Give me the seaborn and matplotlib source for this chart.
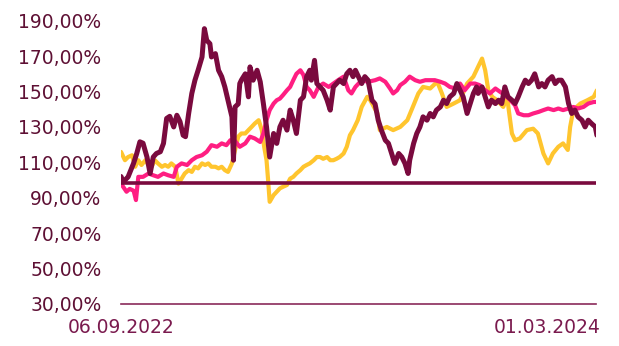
import pandas as pd
import numpy as np
import matplotlib
matplotlib.use('Agg')
import matplotlib.pyplot as plt
import matplotlib.dates as mdates
from matplotlib.ticker import FuncFormatter
import seaborn as sns

sns.set_style('white')
plt.rcParams['font.family'] = ['DejaVu Sans']

# ---------------------------------------------------------------
# Data (day offsets from 06.09.2022)
# ---------------------------------------------------------------
START = pd.Timestamp('2022-09-06')
END = pd.Timestamp('2024-05-02')

dark_days = [0, 3, 9, 16, 20, 24, 28, 33, 37, 41, 45, 50, 54, 58, 62, 67, 71, 75, 79, 82,
             86, 90, 94, 98, 103, 106, 109, 113, 115, 120, 124, 128, 132, 136, 141, 143, 145,
             149, 151, 153, 158, 162, 164, 168, 173, 177, 181, 185, 189, 194, 198, 202, 206,
             211, 215, 219, 223, 228, 232, 236, 240, 242, 246, 249, 253, 257, 262, 266, 270,
             274, 278, 283, 287, 291, 295, 298, 306, 310, 314, 319, 323, 327, 331, 336, 340,
             344, 348, 353, 357, 361, 365, 367, 372, 376, 380, 384, 389, 393, 397, 401, 406,
             410, 414, 418, 423, 427, 431, 435, 440, 444, 448, 452, 454, 459, 463, 467, 471,
             476, 480, 484, 488, 492, 497, 501, 505, 510, 514, 518, 522, 526, 531, 535, 539,
             543, 548, 552, 556, 560, 565, 569, 573, 577, 581, 586, 590, 594, 598, 603, 605]
dark_vals = [102.0, 99.0, 101.8, 109.5, 115.0, 121.6, 120.8, 113.0, 103.7, 113.0, 115.0, 116.0,
             120.7, 134.8, 136.0, 130.0, 136.6, 133.0, 125.3, 124.5, 137.6, 148.9, 156.4, 162.0,
             169.5, 185.5, 178.9, 177.0, 169.5, 171.4, 162.0, 158.4, 152.6, 145.1, 135.7, 111.2,
             141.3, 143.0, 154.5, 156.4, 160.0, 147.0, 163.9, 156.4, 162.0, 155.5, 143.2, 130.0,
             113.0, 126.3, 120.7, 130.0, 133.8, 128.2, 139.5, 133.8, 126.3, 145.1, 147.0, 158.4,
             162.0, 156.4, 167.6, 154.5, 152.6, 150.7, 145.1, 139.5, 152.6, 154.5, 156.4, 154.5,
             160.0, 162.0, 158.4, 162.0, 154.5, 158.4, 156.4, 145.1, 143.0, 133.8, 128.2, 122.5,
             120.7, 115.0, 109.4, 115.0, 113.0, 109.4, 103.7, 111.2, 120.7, 126.3, 130.0, 135.7,
             133.8, 137.6, 135.7, 139.5, 141.3, 145.1, 143.2, 147.0, 148.9, 154.5, 150.7, 147.0,
             137.6, 143.2, 148.9, 152.6, 148.9, 152.6, 147.0, 141.3, 145.1, 143.2, 145.1, 143.2,
             152.6, 147.0, 145.1, 143.2, 147.0, 152.6, 156.4, 154.5, 156.4, 160.0, 152.6, 154.5,
             152.6, 156.4, 158.4, 154.5, 156.4, 156.4, 152.6, 143.2, 137.6, 139.5, 135.7, 133.8,
             130.0, 133.8, 132.0, 130.0, 125.3]

pink_days = [0, 7, 11, 16, 19, 22, 28, 35, 41, 47, 54, 60, 67, 71, 77, 84, 90, 96, 103, 109,
             115, 122, 128, 134, 139, 145, 151, 158, 164, 170, 177, 181, 185, 189, 194, 198,
             202, 206, 211, 215, 219, 223, 228, 232, 236, 240, 245, 251, 257, 264, 270, 276,
             283, 289, 293, 298, 306, 314, 323, 329, 336, 342, 346, 351, 355, 361, 367, 374,
             380, 387, 393, 399, 406, 412, 418, 425, 431, 437, 444, 450, 456, 463, 469, 476,
             482, 488, 495, 501, 505, 512, 518, 524, 531, 537, 543, 550, 556, 562, 569, 575,
             581, 588, 594, 601, 605]
pink_vals = [98.0, 93.4, 95.0, 94.0, 88.7, 101.8, 101.8, 103.7, 102.7, 101.8, 103.7, 102.7,
             101.8, 107.5, 109.4, 108.5, 111.2, 113.0, 114.0, 116.0, 119.7, 118.8, 120.7, 119.7,
             122.5, 122.0, 118.8, 120.7, 124.5, 123.5, 121.5, 126.3, 133.8, 139.5, 143.2, 145.1,
             146.0, 148.0, 150.7, 152.6, 156.4, 160.0, 162.0, 159.3, 152.6, 150.7, 147.0, 152.6,
             154.5, 152.6, 154.5, 156.4, 158.4, 150.7, 148.9, 152.6, 156.4, 155.5, 156.4, 157.4,
             155.5, 151.7, 148.9, 150.7, 153.6, 155.5, 158.4, 156.4, 155.5, 156.4, 156.4, 156.4,
             155.5, 154.5, 152.6, 151.7, 154.5, 150.7, 154.5, 154.5, 153.6, 150.7, 148.9, 151.7,
             149.8, 148.0, 145.1, 142.2, 137.6, 136.6, 136.6, 137.6, 138.5, 139.5, 140.4, 139.5,
             140.4, 139.5, 140.4, 141.3, 140.4, 141.3, 143.2, 144.1, 144.1]

yellow_days = [0, 5, 9, 14, 18, 22, 26, 31, 35, 39, 43, 47, 52, 56, 60, 64, 69, 73, 77, 81,
               86, 90, 94, 98, 103, 107, 111, 115, 120, 124, 128, 132, 136, 141, 145, 149, 153,
               158, 162, 166, 170, 175, 179, 182, 185, 187, 189, 194, 198, 202, 206, 211, 215,
               219, 223, 228, 232, 236, 240, 245, 249, 253, 257, 262, 266, 270, 274, 278, 283,
               287, 291, 295, 301, 306, 313, 317, 326, 329, 338, 346, 355, 364, 371, 378, 384,
               393, 402, 408, 414, 422, 431, 440, 448, 454, 459, 463, 467, 472, 478, 486, 491,
               493, 497, 501, 507, 516, 524, 530, 537, 543, 549, 556, 562, 568, 571, 575, 584,
               593, 601, 605]
yellow_vals = [115.9, 111.2, 113.0, 114.0, 107.5, 111.2, 108.5, 111.2, 108.5, 107.5, 111.2,
               109.4, 107.5, 108.5, 107.5, 109.4, 107.5, 98.0, 100.8, 103.7, 105.6, 104.6, 107.5,
               106.6, 109.4, 108.5, 109.4, 107.5, 107.5, 106.6, 107.5, 105.6, 104.6, 109.4,
               117.0, 124.5, 126.3, 126.3, 128.2, 130.0, 131.9, 133.8, 128.2, 118.8, 111.2,
               100.0, 87.7, 91.5, 93.4, 95.3, 96.2, 97.2, 100.8, 101.8, 103.7, 105.6, 107.5,
               108.5, 109.4, 111.2, 113.0, 113.0, 112.0, 113.0, 111.2, 111.2, 112.0, 113.0,
               115.0, 118.8, 125.3, 128.2, 133.8, 141.3, 147.0, 145.0, 137.6, 128.2, 130.0,
               128.2, 130.0, 133.8, 141.3, 148.9, 152.6, 151.7, 155.5, 148.9, 141.3, 143.0,
               145.1, 154.5, 158.4, 164.0, 168.6, 162.0, 150.7, 147.0, 145.1, 141.3, 147.0,
               139.5, 126.3, 122.5, 123.5, 128.2, 129.0, 126.3, 115.0, 109.4, 115.0, 118.8,
               120.7, 117.0, 130.0, 139.5, 143.2, 145.1, 147.0, 150.7]

baseline = 98.4

y_ticks = [30, 50, 70, 90, 110, 130, 150, 170, 190]
x_ticks = ['2022-09-06', '2024-03-01']

DARK = '#7A0A3E'
PINK = '#FF1E82'
YELLOW = '#FFC52E'
TEXT = '#5E1034'


def to_frame(days, vals):
    return pd.DataFrame({'date': START + pd.to_timedelta(days, unit='D'), 'value': vals})


# ---------------------------------------------------------------
# Plot
# ---------------------------------------------------------------
fig = plt.figure(figsize=(6.19, 3.46), dpi=100)
ax = fig.add_axes([0.1955, 0.1214, 0.7675, 0.8188])

sns.lineplot(data=to_frame(yellow_days, yellow_vals), x='date', y='value',
             color=YELLOW, lw=3.0, ax=ax, zorder=2)
sns.lineplot(data=to_frame(pink_days, pink_vals), x='date', y='value',
             color=PINK, lw=3.0, ax=ax, zorder=3)
ax.axhline(baseline, color=DARK, lw=2.6, zorder=4)
sns.lineplot(data=to_frame(dark_days, dark_vals), x='date', y='value',
             color=DARK, lw=3.6, ax=ax, zorder=5)

ax.set_xlim(START, END)
ax.set_ylim(30, 190)
ax.set_yticks(y_ticks)
ax.yaxis.set_major_formatter(FuncFormatter(lambda v, _: f'{v:.2f}%'.replace('.', ',')))
ax.set_xticks(pd.to_datetime(x_ticks))
ax.xaxis.set_major_formatter(mdates.DateFormatter('%d.%m.%Y'))

ax.set_xlabel('')
ax.set_ylabel('')
for side in ['top', 'right', 'left']:
    ax.spines[side].set_visible(False)
ax.spines['bottom'].set_color('#8A2A5A')
ax.spines['bottom'].set_linewidth(1.2)

ax.tick_params(axis='y', length=0, pad=14, labelsize=13.5, labelcolor=TEXT)
ax.tick_params(axis='x', length=3, width=1.2, color='#8A2A5A', pad=7,
               labelsize=13.5, labelcolor='#7A1A4E')
ax.grid(False)

plt.savefig('out.png', dpi=100)
plt.close()
